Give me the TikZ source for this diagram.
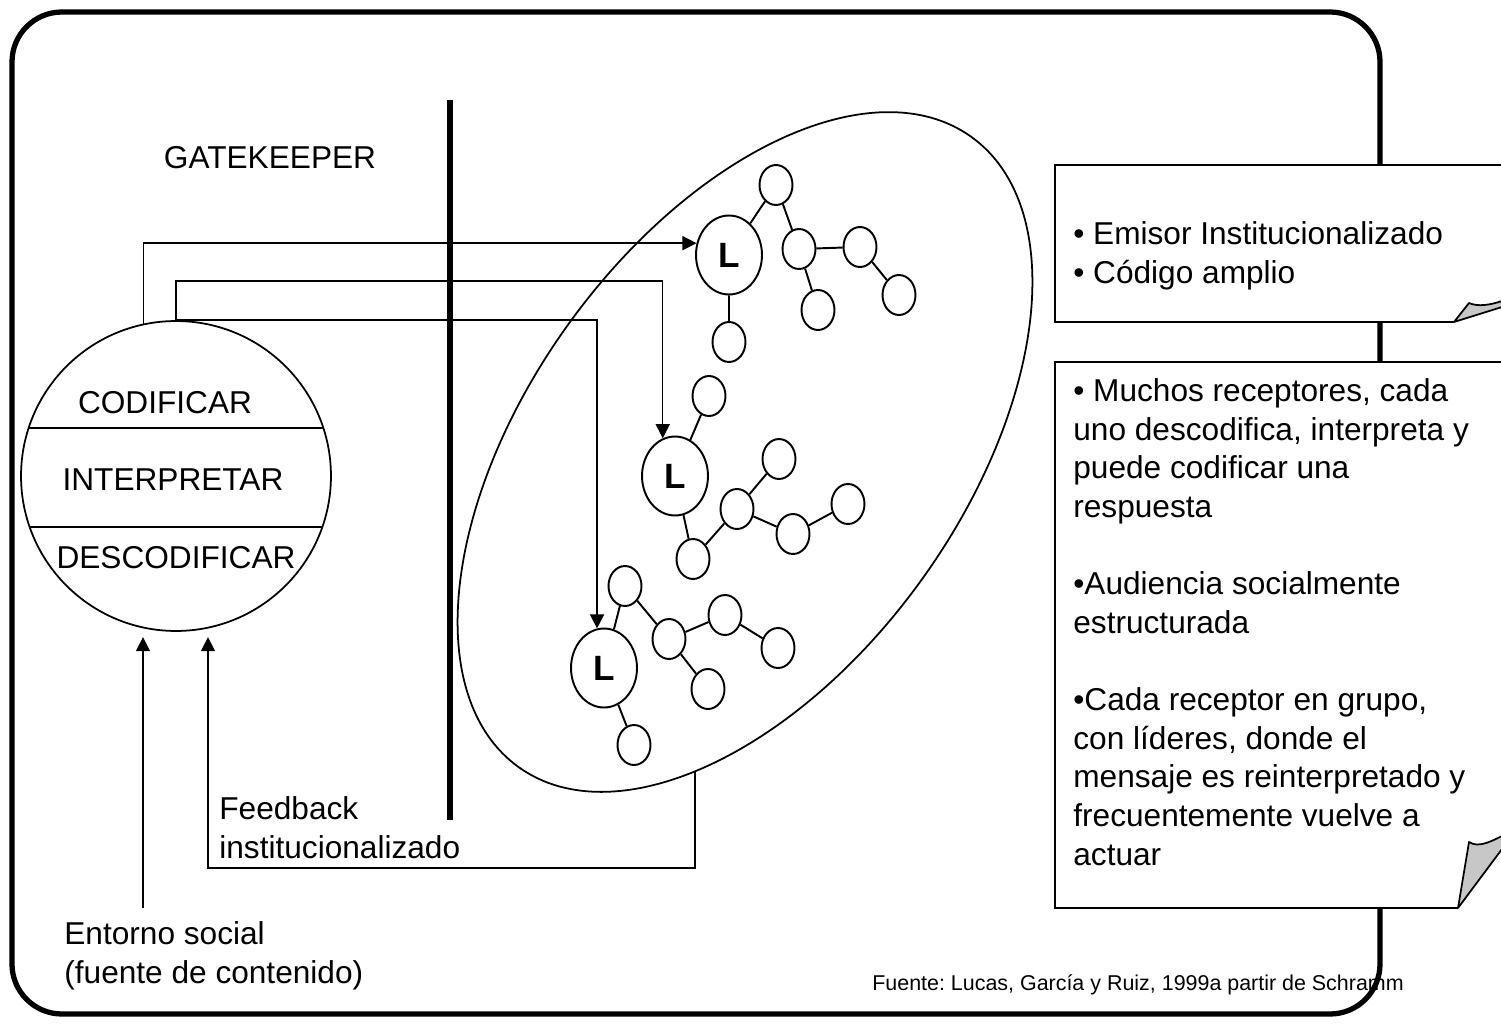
\documentclass[tikz,border=0pt]{standalone}
\usepackage{fontspec}
\setmainfont{Liberation Sans}
\usetikzlibrary{positioning,arrows.meta,shapes.geometric}

\begin{document}
\begin{tikzpicture}[
    x=0.02cm, y=-0.02cm,
    txt/.style={font=\fontsize{18}{22}\selectfont, inner sep=0pt},
    coder/.style={circle, draw=black, line width=1pt, minimum size=6.2cm, inner sep=0pt},
    leader/.style={ellipse, draw=black, line width=1.1pt, fill=white, minimum width=1.32cm, minimum height=1.58cm, inner sep=0pt, font=\fontsize{20}{24}\selectfont\bfseries},
    member/.style={ellipse, draw=black, line width=1.1pt, fill=white, minimum width=0.66cm, minimum height=0.8cm, inner sep=0pt},
    link/.style={draw=black, line width=1.1pt},
    flow/.style={->, >={Triangle[length=8pt,width=8pt]}, draw=black, line width=0.8pt},
    fold/.style={draw=black, line width=1pt, fill=black!22, line join=round}
    ]
        \useasboundingbox (0,0) rectangle (1501,1024);

        %Source text (under the frame)
        \node[font=\fontsize{12.2}{15}\selectfont\frenchspacing, anchor=west, inner sep=0pt]
            (src) at (872,985) {Fuente: Lucas, García y Ruiz, 1999a partir de Schramm};

        %Frame
        \draw[line width=3pt, rounded corners=1cm] (12,12) rectangle (1380,1014);

        %Audience
        \draw[line width=1pt, rotate around={54.3:(745,452)}] (745,452) ellipse (388 and 218);
        \coordinate (fbstart) at (695,771);

        %Gatekeeper
        \coordinate (gktop) at (450,100);
        \coordinate (gkbot) at (450,820);
        \draw[line width=3.5pt] (gktop) -- (gkbot);
        \node[txt] (gate) at (270,158) {GATEKEEPER};

        %Emitter
        \node[coder] (enc) at (176,476) {};
        \draw[line width=1pt] (enc.162) -- (enc.18);
        \draw[line width=1pt] (enc.199) -- (enc.-19);
        \node[txt] (cod)  at (165,403) {CODIFICAR};
        \node[txt] (int)  at (173,480) {INTERPRETAR};
        \node[txt] (desc) at (176,558) {DESCODIFICAR};

        %Groups
        \node[leader] (L1) at (729,255) {L};
        \node[member] (a1) at (776,185) {};
        \node[member] (b1) at (799,249) {};
        \node[member] (c1) at (860,247) {};
        \node[member] (d1) at (899,295) {};
        \node[member] (e1) at (818,310) {};
        \node[member] (f1) at (729,342) {};

        \node[leader] (L2) at (675,476) {L};
        \node[member] (a2) at (709,396) {};
        \node[member] (b2) at (779,459) {};
        \node[member] (c2) at (737,509) {};
        \node[member] (d2) at (793,534) {};
        \node[member] (e2) at (848,504) {};
        \node[member] (f2) at (693,559) {};

        \node[leader] (L3) at (604,668) {L};
        \node[member] (a3) at (625,586) {};
        \node[member] (b3) at (669,639) {};
        \node[member] (c3) at (725,615) {};
        \node[member] (d3) at (778,648) {};
        \node[member] (e3) at (708,689) {};
        \node[member] (f3) at (634,745) {};

        \draw[link] (L1) -- (a1) (a1) -- (b1) (b1) -- (c1) (c1) -- (d1) (b1) -- (e1) (L1) -- (f1);
        \draw[link] (L2) -- (a2) (L2) -- (f2) (f2) -- (c2) (c2) -- (b2) (c2) -- (d2) (d2) -- (e2);
        \draw[link] (L3) -- (a3) (a3) -- (b3) (b3) -- (c3) (c3) -- (d3) (b3) -- (e3) (L3) -- (f3);

        %Lines
        \draw[flow] (enc.102) |- (L1.160);
        \draw[flow] (enc.north) -- ++(0,-39) -| (L2.108);
        \draw[flow] (enc.north) -| (L3.100);

        \coordinate (entbase) at (143,908);
        \draw[flow, shorten >=3pt] (entbase) -- (entbase |- enc.south);
        \coordinate (fbx) at (208,868);
        \draw[flow, shorten >=3pt] (fbstart) |- (fbx) -- (fbx |- enc.south);

        \node[txt, anchor=west, align=left] (feed) at (219,828) {Feedback\\institucionalizado};
        \node[txt, anchor=west, align=left] (ent)  at (64,956)  {Entorno social\\(fuente de contenido)};

        %Notes
        \fill[white] (1055,165) -- (1505,165) -- (1505,300) -- (1454,322) -- (1055,322) -- cycle;
        \draw[line width=1pt] (1505,165) -- (1055,165) -- (1055,322) -- (1454,322);
        \draw[fold] (1454,322) -- (1469,303) .. controls (1478,307) and (1490,305) .. (1502,301) -- (1502,307) -- cycle;
        \node[txt, anchor=west, align=left] (n1) at (1073,256)
            {• Emisor Institucionalizado\\• Código amplio};

        \fill[white] (1055,362) -- (1505,362) -- (1505,845) -- (1458,908) -- (1055,908) -- cycle;
        \draw[line width=1pt] (1505,362) -- (1055,362) -- (1055,908) -- (1458,908);
        \draw[fold] (1458,908) -- (1469,842) .. controls (1478,848) and (1490,842) .. (1502,836) -- (1502,849) -- cycle;
        \node[txt, anchor=west, align=left] (n2) at (1073,622)
            {• Muchos receptores, cada\\uno descodifica, interpreta y\\puede codificar una\\respuesta\\[22pt]%
             •Audiencia socialmente\\estructurada\\[22pt]%
             •Cada receptor en grupo,\\con líderes, donde el\\mensaje es reinterpretado y\\frecuentemente vuelve a\\actuar};
    \end{tikzpicture}
\end{document}
